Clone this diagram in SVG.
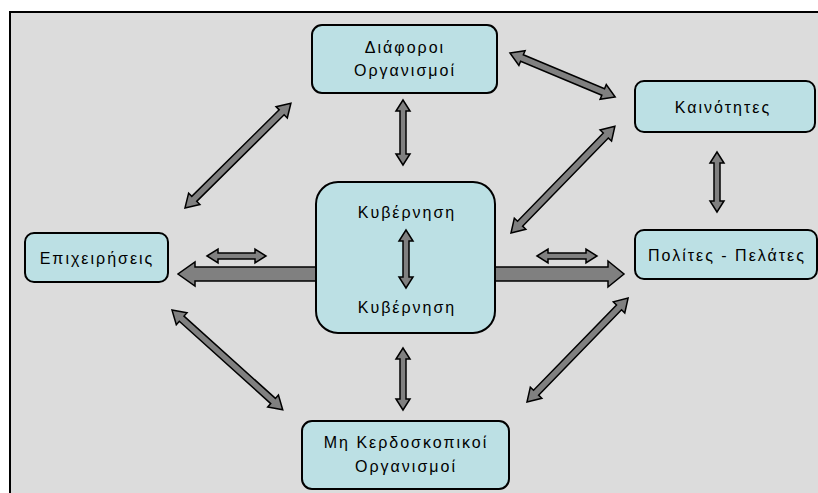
<svg xmlns="http://www.w3.org/2000/svg" width="818" height="493" viewBox="0 0 818 493">
  <style>
    .node rect { fill: #bce0e4; stroke: #000; stroke-width: 2; }
    .node text { font-family: "Liberation Sans", "DejaVu Sans", sans-serif; font-size: 16px; letter-spacing: 2px; fill: #000; text-anchor: middle; dominant-baseline: central; }
    .arrow { fill: #808080; stroke: #000; stroke-width: 1.5; stroke-linejoin: miter; }
  </style>
  <rect width="818" height="493" fill="#ffffff"/>
  <rect x="10" y="12" width="820" height="490" fill="#dcdcdc" stroke="#000" stroke-width="2"/>

  <g id="connectors">
    <!-- wide arrows from the government block -->
    <path class="arrow" d="M320,267 L195,267 L195,262 L178,274 L195,286 L195,281 L320,281 Z"/>
    <path class="arrow" d="M490,267 L608,267 L608,261 L624,274 L608,287 L608,281 L490,281 Z"/>
    <!-- small horizontal double arrows -->
    <path class="arrow" transform="translate(207,256)" d="M0,0 L11,-7 L11,-3 L48,-3 L48,-7 L59,0 L48,7 L48,3 L11,3 L11,7 Z"/>
    <path class="arrow" transform="translate(537,256)" d="M0,0 L11,-7 L11,-3 L49,-3 L49,-7 L60,0 L49,7 L49,3 L11,3 L11,7 Z"/>
    <!-- vertical double arrows -->
    <path class="arrow" transform="translate(403,100) rotate(90)" d="M0,0 L11,-7 L11,-3 L54,-3 L54,-7 L65,0 L54,7 L54,3 L11,3 L11,7 Z"/>
    <path class="arrow" transform="translate(403,348) rotate(90)" d="M0,0 L11,-7 L11,-3 L51,-3 L51,-7 L62,0 L51,7 L51,3 L11,3 L11,7 Z"/>
    <path class="arrow" transform="translate(717,152) rotate(90)" d="M0,0 L11,-7 L11,-3 L49,-3 L49,-7 L60,0 L49,7 L49,3 L11,3 L11,7 Z"/>
    <!-- diagonal double arrows -->
    <path class="arrow" transform="translate(185,208) rotate(-44.7)" d="M0,0 L13,-8 L13,-3.5 L136,-3.5 L136,-8 L149,0 L136,8 L136,3.5 L13,3.5 L13,8 Z"/>
    <path class="arrow" transform="translate(510,53) rotate(22.7)" d="M0,0 L13,-8 L13,-3.5 L101,-3.5 L101,-8 L114,0 L101,8 L101,3.5 L13,3.5 L13,8 Z"/>
    <path class="arrow" transform="translate(511,233) rotate(-45.8)" d="M0,0 L13,-8 L13,-3.5 L136,-3.5 L136,-8 L149,0 L136,8 L136,3.5 L13,3.5 L13,8 Z"/>
    <path class="arrow" transform="translate(172,310) rotate(42)" d="M0,0 L13,-8 L13,-3.5 L136,-3.5 L136,-8 L149,0 L136,8 L136,3.5 L13,3.5 L13,8 Z"/>
    <path class="arrow" transform="translate(527,402) rotate(-45.8)" d="M0,0 L13,-8 L13,-3.5 L132,-3.5 L132,-8 L145,0 L132,8 L132,3.5 L13,3.5 L13,8 Z"/>
  </g>

  <g id="organisations" class="node">
    <rect x="312" y="25" width="185" height="68" rx="10"/>
    <text x="405" y="47">Διάφοροι</text>
    <text x="405" y="70">Οργανισμοί</text>
  </g>
  <g id="innovations" class="node">
    <rect x="635" y="81" width="180" height="51" rx="9"/>
    <text x="723" y="107">Καινότητες</text>
  </g>
  <g id="businesses" class="node">
    <rect x="25" y="233" width="143" height="49" rx="9"/>
    <text x="97" y="258">Επιχειρήσεις</text>
  </g>
  <g id="government" class="node">
    <rect x="316" y="182" width="179" height="151" rx="22"/>
    <text x="407" y="212">Κυβέρνηση</text>
    <text x="407" y="307">Κυβέρνηση</text>
  </g>
  <g id="citizens" class="node">
    <rect x="635" y="230" width="182" height="49" rx="9"/>
    <text x="727" y="255">Πολίτες - Πελάτες</text>
  </g>
  <g id="nonprofits" class="node">
    <rect x="302" y="421" width="207" height="68" rx="10"/>
    <text x="406" y="442">Μη Κερδοσκοπικοί</text>
    <text x="406" y="466">Οργανισμοί</text>
  </g>

  <!-- arrow drawn inside the government block -->
  <path class="arrow" transform="translate(406,230) rotate(90)" d="M0,0 L11,-7 L11,-3 L47,-3 L47,-7 L58,0 L47,7 L47,3 L11,3 L11,7 Z"/>
</svg>
